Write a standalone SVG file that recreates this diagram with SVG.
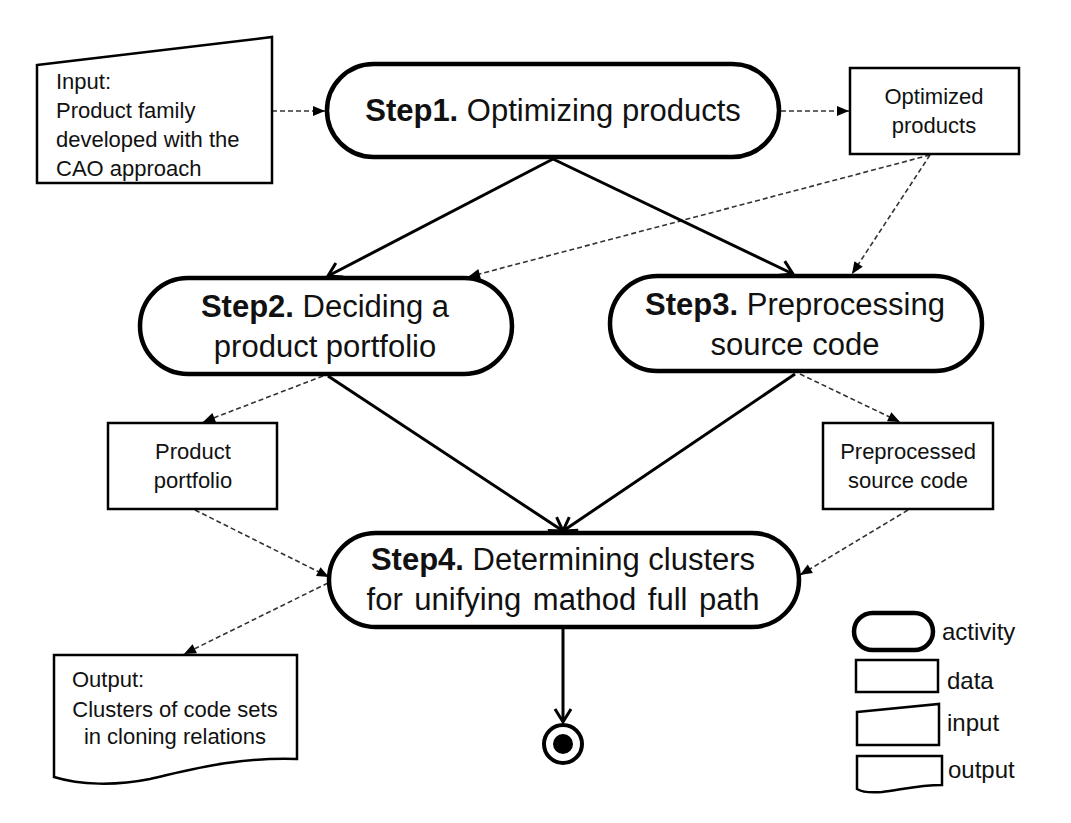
<svg xmlns="http://www.w3.org/2000/svg" width="1071" height="823" viewBox="0 0 1071 823">
<defs>
<style>
.act{fill:#fff;stroke:#000;stroke-width:4.5}
.box{fill:#fff;stroke:#000;stroke-width:2.5}
.solid{fill:none;stroke:#000;stroke-width:3}
.dash{fill:none;stroke:#333;stroke-width:1.6;stroke-dasharray:5 3}
text{font-family:"Liberation Sans",Arial,sans-serif;fill:#111}
.st{font-size:31px}
.sm{font-size:22px}
.lg{font-size:24px}
.b{font-weight:bold}
</style>
<marker id="tri" markerUnits="userSpaceOnUse" markerWidth="13" markerHeight="11" refX="12" refY="5" orient="auto" overflow="visible">
<path d="M0,0 L12,5 L0,10 z" fill="#000"/>
</marker>
<marker id="vee" markerUnits="userSpaceOnUse" markerWidth="16" markerHeight="18" refX="14" refY="9" orient="auto" overflow="visible">
<path d="M1,1 L14,9 L1,17" fill="none" stroke="#000" stroke-width="3" stroke-linejoin="miter"/>
</marker>
</defs>
<rect width="1071" height="823" fill="#fff"/>

<g id="connectors">
<line class="dash" x1="272" y1="111" x2="325" y2="111" marker-end="url(#tri)"/>
<line class="dash" x1="781" y1="111" x2="849" y2="111" marker-end="url(#tri)"/>
<line class="dash" x1="930" y1="155" x2="468" y2="277" marker-end="url(#tri)"/>
<line class="dash" x1="930" y1="155" x2="852" y2="274" marker-end="url(#tri)"/>
<line class="dash" x1="323" y1="376" x2="203" y2="422" marker-end="url(#tri)"/>
<line class="dash" x1="800" y1="374" x2="900" y2="422" marker-end="url(#tri)"/>
<line class="dash" x1="195" y1="510" x2="329" y2="577" marker-end="url(#tri)"/>
<line class="dash" x1="908" y1="510" x2="800" y2="575" marker-end="url(#tri)"/>
<line class="dash" x1="328" y1="583" x2="184" y2="654" marker-end="url(#tri)"/>
<line class="solid" x1="553" y1="159" x2="328" y2="276" marker-end="url(#vee)"/>
<line class="solid" x1="553" y1="159" x2="793" y2="274" marker-end="url(#vee)"/>
<line class="solid" x1="328" y1="376" x2="563" y2="531" marker-end="url(#vee)"/>
<line class="solid" x1="795" y1="374" x2="563" y2="531" marker-end="url(#vee)"/>
<line class="solid" x1="563" y1="629" x2="563" y2="722" marker-end="url(#vee)"/>
</g>

<g id="input">
<polygon class="box" points="37,65 272,37 272,183 37,183"/>
<text class="sm" x="56" y="89">Input:</text>
<text class="sm" x="56" y="118">Product family</text>
<text class="sm" x="56" y="147">developed with the</text>
<text class="sm" x="56" y="176">CAO approach</text>
</g>

<g id="step1">
<rect class="act" x="327" y="64" width="452" height="93" rx="46.5"/>
<text class="st" x="553" y="121" text-anchor="middle"><tspan class="b">Step1.</tspan> Optimizing products</text>
</g>

<g id="optimized">
<rect class="box" x="850" y="68" width="169" height="86"/>
<text class="sm" x="934" y="104" text-anchor="middle">Optimized</text>
<text class="sm" x="934" y="133" text-anchor="middle">products</text>
</g>

<g id="step2">
<rect class="act" x="140" y="278" width="372" height="96" rx="48"/>
<text class="st" x="325" y="317" text-anchor="middle"><tspan class="b">Step2.</tspan> Deciding a</text>
<text class="st" x="325" y="357" text-anchor="middle">product portfolio</text>
</g>

<g id="step3">
<rect class="act" x="610" y="276" width="372" height="95" rx="47.5"/>
<text class="st" x="795" y="315" text-anchor="middle"><tspan class="b">Step3.</tspan> Preprocessing</text>
<text class="st" x="795" y="355" text-anchor="middle">source code</text>
</g>

<g id="portfolio">
<rect class="box" x="108" y="423" width="169" height="86"/>
<text class="sm" x="193" y="459" text-anchor="middle">Product</text>
<text class="sm" x="193" y="488" text-anchor="middle">portfolio</text>
</g>

<g id="preprocessed">
<rect class="box" x="823" y="423" width="170" height="86"/>
<text class="sm" x="908" y="459" text-anchor="middle">Preprocessed</text>
<text class="sm" x="908" y="488" text-anchor="middle">source code</text>
</g>

<g id="step4">
<rect class="act" x="329" y="533" width="470" height="94" rx="47"/>
<text class="st" x="563" y="570" text-anchor="middle"><tspan class="b">Step4.</tspan> Determining clusters</text>
<text class="st" x="563" y="610" text-anchor="middle" word-spacing="3">for unifying mathod full path</text>
</g>

<g id="output">
<path class="box" d="M54,655 H297 V759 C235,757 190,770 150,779 C115,786 80,785 54,777 Z"/>
<text class="sm" x="72" y="687">Output:</text>
<text class="sm" x="175" y="717" text-anchor="middle">Clusters of code sets</text>
<text class="sm" x="175" y="744" text-anchor="middle">in cloning relations</text>
</g>

<g id="end">
<circle cx="563" cy="744" r="19" fill="#fff" stroke="#000" stroke-width="4"/>
<circle cx="563" cy="744" r="10" fill="#000"/>
</g>

<g id="legend">
<rect class="act" x="854" y="613" width="79" height="37" rx="18.5"/>
<text class="lg" x="942" y="640">activity</text>
<rect class="box" x="856" y="660" width="82" height="32" stroke-width="2"/>
<text class="lg" x="947" y="689">data</text>
<polygon class="box" points="857,712 939,704 939,745 857,745" stroke-width="2"/>
<text class="lg" x="947" y="731">input</text>
<path class="box" d="M857,756 H942 V785 C918,785 900,790 882,792 C870,793 862,792 857,789 Z" stroke-width="2"/>
<text class="lg" x="948" y="778">output</text>
</g>
</svg>
